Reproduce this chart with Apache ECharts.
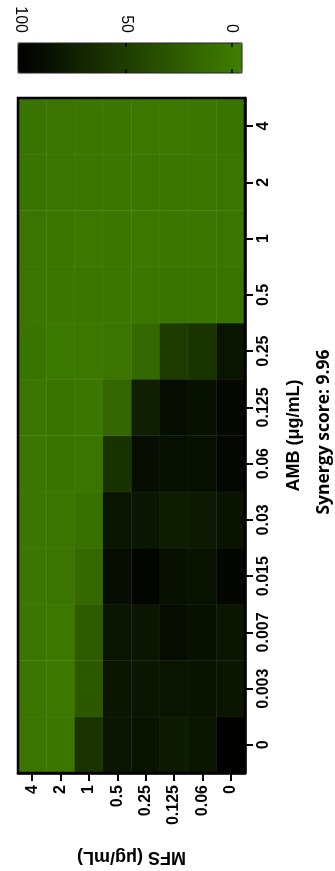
<!DOCTYPE html>
<html>
<head>
<meta charset="utf-8">
<script src="https://cdn.jsdelivr.net/npm/echarts@6/dist/echarts.min.js"></script>
<style>
html,body{margin:0;padding:0;background:#fff;}
#chart{width:335px;height:871px;}
</style>
</head>
<body>
<div id="chart"></div>
<script>
// MFS concentrations (columns, left to right as drawn)
const mfsLabels = ['4', '2', '1', '0.5', '0.25', '0.125', '0.06', '0'];
// AMB concentrations (rows, bottom to top as drawn)
const ambLabels = ['0', '0.003', '0.007', '0.015', '0.03', '0.06', '0.125', '0.25', '0.5', '1', '2', '4'];
// Inhibition values, one array per AMB row, ordered like mfsLabels
const rowAmb0     = [4, 3, 58, 84, 85, 79, 83, 100];
const rowAmb0003  = [3, 2, 28, 83, 83, 84, 85, 83];
const rowAmb0007  = [3, 2, 26, 84, 83, 91, 88, 83];
const rowAmb0015  = [3, 4, 14, 90, 97, 88, 86, 95];
const rowAmb003   = [3, 4, 8, 84, 83, 78, 80, 85];
const rowAmb006   = [3, 5, 4, 59, 90, 89, 89, 94];
const rowAmb0125  = [3, 5, 3, 17, 75, 91, 88, 94];
const rowAmb025   = [5, 1, 2, 4, 15, 51, 58, 84];
const rowAmb05    = [4, 3, 3, 3, 3, 5, 5, 6];
const rowAmb1     = [4, 3, 2, 3, 2, 3, 3, 4];
const rowAmb2     = [5, 4, 3, 3, 3, 3, 3, 4];
const rowAmb4     = [5, 4, 3, 3, 2, 2, 3, 5];
const rows = [rowAmb0, rowAmb0003, rowAmb0007, rowAmb0015, rowAmb003, rowAmb006,
              rowAmb0125, rowAmb025, rowAmb05, rowAmb1, rowAmb2, rowAmb4];
// Colour bar
const scaleMin = -4.8;
const scaleMax = 101;
const scaleTicks = [0, 50, 100];
const scaleInnerTicks = [0, 50];
const synergyText = 'Synergy score: 9.96';

const data = [];
rows.forEach((row, yi) => row.forEach((v, xi) => data.push([xi, yi, v])));

const chart = echarts.init(document.getElementById('chart'), null, {renderer: 'canvas'});
const FONT = 'Arial';
const boldTick = {fontFamily: FONT, fontWeight: 'bold', fontSize: 16, color: '#000'};
const barTick = {show: true, inside: true, length: 4, customValues: scaleInnerTicks, lineStyle: {color: '#000', width: 1.5}};

chart.setOption({
  animation: false,
  backgroundColor: '#fff',
  grid: [
    {left: 18, right: 90, top: 98, bottom: 94, show: true, z: 10,
     backgroundColor: 'transparent', borderColor: '#000', borderWidth: 2.5},
    {left: 18, top: 43, width: 224, height: 30, show: true, z: 10,
     backgroundColor: 'transparent', borderColor: '#222', borderWidth: 1}
  ],
  xAxis: [
    {type: 'category', gridIndex: 0, data: mfsLabels, position: 'bottom', z: 12,
     axisLine: {show: true, onZero: false, lineStyle: {color: '#000', width: 2.5}},
     axisTick: {show: true, alignWithLabel: true, length: 8, lineStyle: {color: '#000', width: 2}},
     axisLabel: Object.assign({rotate: 90, margin: 12, interval: 0}, boldTick),
     splitLine: {show: false},
     name: 'MFS (μg/mL)', nameLocation: 'middle', nameRotate: 180, nameGap: 75,
     nameTextStyle: {fontFamily: FONT, fontWeight: 'bold', fontSize: 18, color: '#000'}},
    {type: 'value', gridIndex: 1, min: scaleMin, max: scaleMax, inverse: true, position: 'top', z: 20,
     axisLine: {show: false, onZero: false},
     axisTick: barTick,
     axisLabel: {customValues: scaleTicks, rotate: 90, margin: 10, fontFamily: FONT, fontSize: 16, color: '#000'},
     splitLine: {show: false}},
    {type: 'value', gridIndex: 1, min: scaleMin, max: scaleMax, inverse: true, position: 'bottom', z: 20,
     axisLine: {show: false, onZero: false},
     axisTick: barTick,
     axisLabel: {show: false},
     splitLine: {show: false}}
  ],
  yAxis: [
    {type: 'category', gridIndex: 0, data: ambLabels, position: 'right', z: 12,
     axisLine: {show: true, onZero: false, lineStyle: {color: '#000', width: 2.5}},
     axisTick: {show: true, alignWithLabel: true, length: 8, lineStyle: {color: '#000', width: 2}},
     axisLabel: Object.assign({rotate: 90, margin: 11, interval: 0}, boldTick),
     splitLine: {show: false},
     name: 'AMB (μg/mL)', nameLocation: 'middle', nameRotate: 90, nameGap: 40,
     nameTextStyle: {fontFamily: FONT, fontWeight: 'bold', fontSize: 18, color: '#000'}},
    {type: 'value', gridIndex: 1, show: false, min: 0, max: 1, axisLine: {onZero: false}}
  ],
  visualMap: {
    type: 'continuous', min: scaleMin, max: scaleMax, orient: 'horizontal', inverse: true,
    calculable: false, showLabel: false, text: null, z: 4,
    left: 18, top: 43, itemWidth: 30, itemHeight: 224, padding: 0, itemGap: 0,
    inRange: {color: ['#408000', '#000000']},
    seriesIndex: 0
  },
  graphic: [{
    type: 'text', x: 324, y: 432, rotation: Math.PI / 2,
    style: {text: synergyText, fill: '#000', font: 'bold 17.5px "Open Sans"', align: 'center', verticalAlign: 'middle'}
  }],
  series: [{
    type: 'heatmap', xAxisIndex: 0, yAxisIndex: 0, data: data,
    itemStyle: {borderColor: 'rgba(255,255,255,0.04)', borderWidth: 1},
    emphasis: {disabled: true}
  }]
});
</script>
</body>
</html>
